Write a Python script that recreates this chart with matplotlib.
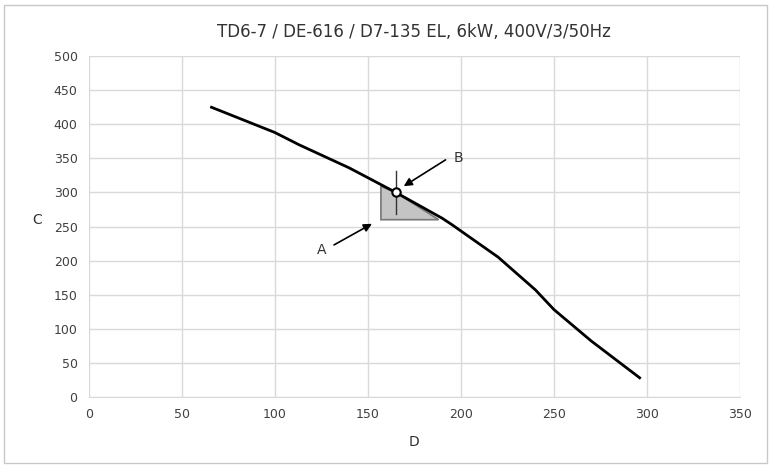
import matplotlib
matplotlib.use('Agg')
import matplotlib.pyplot as plt
from matplotlib.patches import Rectangle

curve_x = [66, 100, 113, 140, 165, 190, 195, 220, 240, 250, 270, 296]
curve_y = [425, 388, 370, 336, 300, 262, 253, 205, 157, 128, 82, 28]
shade_x = [157, 157, 165, 188]
shade_y = [260, 309, 300, 260]
point_b = (165, 300)

fig = plt.figure(figsize=(7.71, 4.68), dpi=100)
fig.patches.append(Rectangle((0.005, 0.01), 0.99, 0.98, transform=fig.transFigure,
                             fill=False, edgecolor='#c8c8c8', lw=1))
ax = fig.add_axes([0.115, 0.152, 0.845, 0.728])

ax.fill(shade_x, shade_y, facecolor='#c4c4c4', edgecolor='#777777', lw=1.2, zorder=2)
ax.plot(curve_x, curve_y, color='black', lw=2, zorder=3)
ax.plot([point_b[0], point_b[0]], [269, 331], color='#333333', lw=1, zorder=4)
ax.plot(*point_b, 'o', mfc='white', mec='black', ms=6, mew=1.5, zorder=5)

arrow = dict(arrowstyle='-|>', color='black', lw=1.2, mutation_scale=12)
ax.annotate('', xy=(153.5, 256), xytext=(130.5, 221), arrowprops=arrow)
ax.annotate('', xy=(168, 307), xytext=(193, 350), arrowprops=arrow)
ax.text(125, 216, 'A', ha='center', va='center', fontsize=10, color='#333333')
ax.text(198.5, 351, 'B', ha='center', va='center', fontsize=10, color='#333333')

ax.set_xlim(0, 350)
ax.set_ylim(0, 500)
ax.set_xticks(range(0, 351, 50))
ax.set_yticks(range(0, 501, 50))
ax.grid(True, color='#d9d9d9', lw=1)
ax.set_axisbelow(True)
for s in ['top', 'right', 'left']:
    ax.spines[s].set_visible(False)
ax.spines['bottom'].set_color('#d9d9d9')
ax.tick_params(length=0, labelsize=9, colors='#404040', pad=8)
ax.set_xlabel('D', fontsize=10, color='#333333', labelpad=10)
ax.set_ylabel('C', fontsize=10, color='#333333', rotation=0, labelpad=12)
ax.set_title('TD6-7 / DE-616 / D7-135 EL, 6kW, 400V/3/50Hz', fontsize=12, color='#333333', pad=14)

fig.savefig('out.png', dpi=100)
